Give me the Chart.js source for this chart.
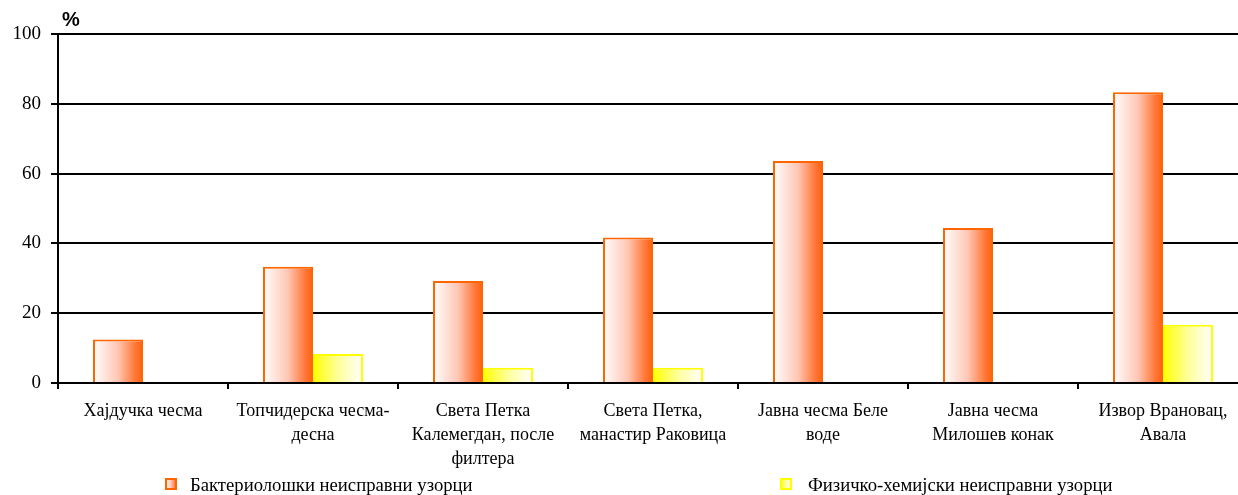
<!DOCTYPE html>
<html>
<head>
<meta charset="utf-8">
<script src="https://cdn.jsdelivr.net/npm/chart.js@4"></script>
<style>
  html, body { margin: 0; padding: 0; overflow: hidden; background: #fff; }
  #wrap { width: 1250px; height: 495px; }
</style>
</head>
<body>
<div id="wrap"><canvas id="chart" width="1250" height="495"></canvas></div>
<script>
const categories = [
    'Хајдучка чесма',
    ['Топчидерска чесма-', 'десна'],
    ['Света Петка', 'Калемегдан, после', 'филтера'],
    ['Света Петка,', 'манастир Раковица'],
    ['Јавна чесма Беле', 'воде'],
    ['Јавна чесма', 'Милошев конак'],
    ['Извор Врановац,', 'Авала'],
];
const bacterial = [12.5, 33.3, 29.2, 41.7, 63.6, 44.4, 83.3];
const physChem = [null, 8.3, 4.4, 4.4, null, null, 16.7];
const seriesNames = ['Бактериолошки неисправни узорци', 'Физичко-хемијски неисправни узорци'];
const yTicks = [0, 20, 40, 60, 80, 100];

const ORANGE = '#ff6600';
const YELLOW = '#ffff00';
const CAT_PCT = 100 / 170;
const SERIF = '"Liberation Serif", "Times New Roman", serif';

function orangeGrad(ctx, left, right) {
    const g = ctx.createLinearGradient(left, 0, right, 0);
    g.addColorStop(0, '#ffffff');
    g.addColorStop(0.5, '#ffc6b4');
    g.addColorStop(0.85, '#ff7636');
    g.addColorStop(1, '#ff5f10');
    return g;
}

function yellowGrad(ctx, left, right) {
    const g = ctx.createLinearGradient(left, 0, right, 0);
    g.addColorStop(0, '#ffff00');
    g.addColorStop(0.5, '#ffff9a');
    g.addColorStop(1, '#ffffff');
    return g;
}

// gradient across each bar, computed from the category scale
function barFill(side) {
    return (context) => {
        const chart = context.chart;
        const x = chart.scales.x;
        const fallback = side === 0 ? ORANGE : YELLOW;
        if (!x || context.dataIndex === undefined) return fallback;
        const center = x.getPixelForValue(context.dataIndex);
        const barW = (x.width / categories.length) * CAT_PCT / 2;
        if (!isFinite(center) || !isFinite(barW) || barW <= 0) return fallback;
        if (side === 0) return orangeGrad(chart.ctx, center - barW, center);
        return yellowGrad(chart.ctx, center, center + barW);
    };
}

const extras = {
    id: 'extras',
    afterDraw(chart) {
        const ctx = chart.ctx;
        ctx.save();
        // unit label above the y axis
        ctx.fillStyle = '#000';
        ctx.font = 'bold 20px "Liberation Sans", Arial, sans-serif';
        ctx.textBaseline = 'alphabetic';
        ctx.textAlign = 'left';
        ctx.fillText('%', 62, 26);

        // legend
        const items = [
            { x: 165, tx: 190, name: seriesNames[0], border: ORANGE, fill: orangeGrad },
            { x: 780, tx: 808, name: seriesNames[1], border: YELLOW, fill: yellowGrad },
        ];
        ctx.font = '18.7px ' + SERIF;
        items.forEach(it => {
            ctx.fillStyle = it.fill(ctx, it.x, it.x + 12);
            ctx.fillRect(it.x, 478, 12, 12);
            ctx.strokeStyle = it.border;
            ctx.lineWidth = 2;
            ctx.strokeRect(it.x + 1, 479, 10, 10);
            ctx.fillStyle = '#000';
            ctx.fillText(it.name, it.tx, 491);
        });
        ctx.restore();
    }
};

new Chart(document.getElementById('chart'), {
    type: 'bar',
    data: {
        labels: categories,
        datasets: [
            {
                label: seriesNames[0],
                data: bacterial,
                backgroundColor: barFill(0),
                borderColor: ORANGE,
                borderWidth: 2,
                borderSkipped: 'bottom',
            },
            {
                label: seriesNames[1],
                data: physChem,
                backgroundColor: barFill(1),
                borderColor: YELLOW,
                borderWidth: 2,
                borderSkipped: 'bottom',
            },
        ],
    },
    options: {
        responsive: false,
        animation: false,
        layout: { padding: { top: 34, right: 2, bottom: 0, left: 0 } },
        plugins: {
            legend: { display: false },
            tooltip: { enabled: false },
        },
        datasets: {
            bar: { categoryPercentage: CAT_PCT, barPercentage: 1 },
        },
        scales: {
            x: {
                grid: {
                    offset: true,
                    drawOnChartArea: false,
                    color: '#000',
                    lineWidth: 2,
                    tickLength: 6,
                },
                border: { color: '#000', width: 2 },
                ticks: {
                    color: '#000',
                    font: { family: SERIF, size: 18, lineHeight: 1.33 },
                    maxRotation: 0,
                    autoSkip: false,
                    padding: 10,
                },
                afterFit(scale) { scale.height = 112; },
            },
            y: {
                min: 0,
                max: 100,
                afterBuildTicks(scale) { scale.ticks = yTicks.map(v => ({ value: v })); },
                grid: {
                    color: '#000',
                    lineWidth: 2,
                    tickLength: 7,
                },
                border: { color: '#000', width: 2 },
                ticks: {
                    color: '#000',
                    font: { family: SERIF, size: 19 },
                    padding: 10,
                },
                afterFit(scale) { scale.width = 58; },
            },
        },
    },
    plugins: [extras],
});
</script>
</body>
</html>
